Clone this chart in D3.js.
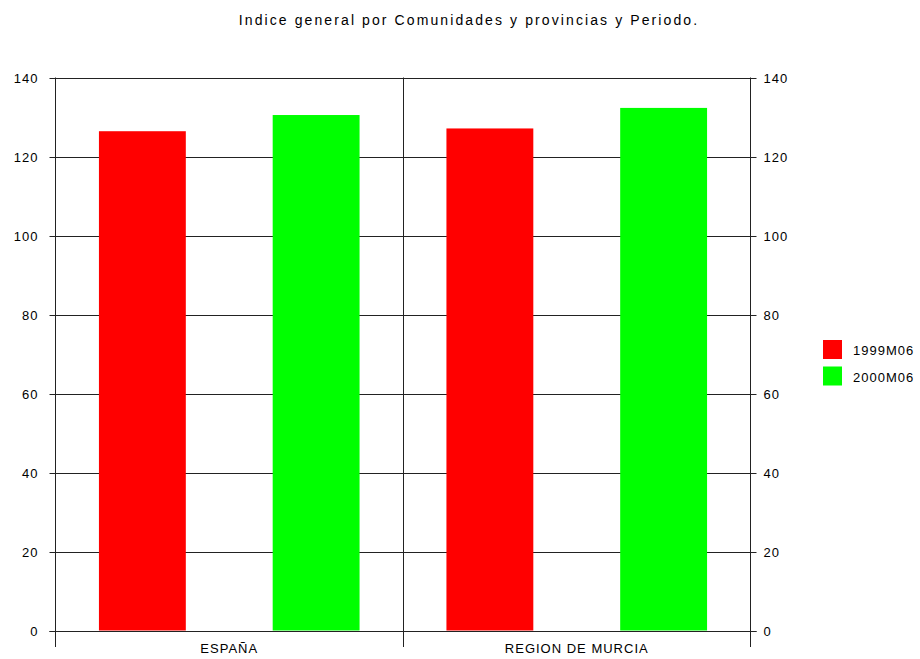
<!DOCTYPE html>
<html><head><meta charset="utf-8">
<script src="https://cdn.jsdelivr.net/npm/d3@7"></script>
<style>body{margin:0;background:#fff}svg{display:block;font-family:"Liberation Sans",Arial,sans-serif}</style>
</head><body><svg id="c" width="920" height="659"></svg>
<script>
const title = "Indice general por Comunidades y provincias y Periodo.";
const categories = ["ESPAÑA", "REGION DE MURCIA"];
const series = ["1999M06", "2000M06"];
const colors = ["#ff0000", "#00ff00"];
const values1999 = [126.4, 127.1];
const values2000 = [130.5, 132.3];
const yTicks = [0, 20, 40, 60, 80, 100, 120, 140];

const svg = d3.select("#c");
const L = 55.5, R = 750.5, T = 77.5, B = 630.5;
const x0 = d3.scaleBand().domain(categories).range([L, R]);
const x1 = d3.scaleBand().domain(series).range([0, x0.bandwidth()]).paddingInner(0.5).paddingOuter(0.25);
const y = d3.scaleLinear().domain([0, 140]).range([B, T]);
const lineColor = "#222";

svg.append("text").attr("x", 469).attr("y", 25).attr("text-anchor", "middle")
  .attr("font-size", 14).attr("letter-spacing", 2.1).attr("fill", "#000").text(title);

// gridlines with ticks both sides
svg.append("g").selectAll("line").data(yTicks).join("line")
  .attr("x1", L - 6).attr("x2", R + 6)
  .attr("y1", d => Math.round(y(d)) + 0.5).attr("y2", d => Math.round(y(d)) + 0.5)
  .attr("stroke", lineColor).attr("stroke-width", 1);

// bars
const data = categories.map((c, i) => ({c, vals: [values1999[i], values2000[i]]}));
data.forEach(d => {
  svg.append("g").selectAll("rect").data(series).join("rect")
    .attr("x", (s) => x0(d.c) + x1(s))
    .attr("width", x1.bandwidth())
    .attr("y", (s, j) => y(d.vals[j]))
    .attr("height", (s, j) => B - y(d.vals[j]))
    .attr("fill", (s, j) => colors[j]);
});

// vertical lines: axes and category dividers
const vx = [L, ...categories.slice(1).map(c => x0(c)), R];
svg.append("g").selectAll("line").data(vx).join("line")
  .attr("x1", d => Math.round(d - 0.5) + 0.5).attr("x2", d => Math.round(d - 0.5) + 0.5)
  .attr("y1", T).attr("y2", 647)
  .attr("stroke", lineColor).attr("stroke-width", 1);
// baseline over bars
svg.append("line").attr("x1", L - 6).attr("x2", R + 6).attr("y1", Math.round(y(0)) + 0.5).attr("y2", Math.round(y(0)) + 0.5)
  .attr("stroke", lineColor);

// y labels
const lab = svg.append("g").attr("font-size", 13).attr("letter-spacing", 1).attr("fill", "#000");
lab.selectAll("text.l").data(yTicks).join("text").attr("class", "l")
  .attr("x", L - 17).attr("y", d => y(d) + 5).attr("text-anchor", "end").text(d => d);
lab.selectAll("text.r").data(yTicks).join("text").attr("class", "r")
  .attr("x", R + 13).attr("y", d => y(d) + 5).attr("text-anchor", "start").text(d => d);

// category labels
lab.selectAll("text.c").data(categories).join("text").attr("class", "c")
  .attr("x", d => x0(d) + x0.bandwidth() / 2).attr("y", 653).attr("text-anchor", "middle").text(d => d);

// legend
const lg = svg.append("g");
series.forEach((s, i) => {
  lg.append("rect").attr("x", 823).attr("y", 340 + i * 26.5).attr("width", 19).attr("height", 19).attr("fill", colors[i]);
  lg.append("text").attr("x", 853).attr("y", 355 + i * 26.5).attr("font-size", 13).attr("letter-spacing", 1).text(s);
});
</script></body></html>
